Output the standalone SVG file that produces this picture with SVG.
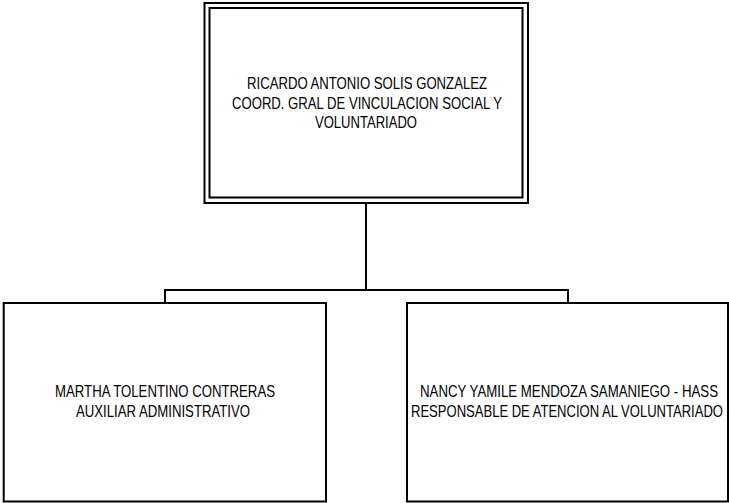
<svg xmlns="http://www.w3.org/2000/svg" width="729" height="503" viewBox="0 0 729 503">
<style>
.box{fill:#fff;stroke:#000;stroke-width:2}
.conn{fill:none;stroke:#000;stroke-width:2}
text{font-family:"Liberation Sans",Arial,sans-serif;font-size:16.5px;fill:#000}
</style>
<rect width="729" height="503" fill="#fff"/>
<g id="connectors">
<path class="conn" d="M366,203 V290 M165,290 H568 M165,289 V303 M568,289 V303"/>
</g>
<g id="node-top">
<rect class="box" x="204.5" y="3" width="323.5" height="200"/>
<rect class="box" x="209.5" y="8" width="313" height="189.5"/>
<text x="247" y="89" textLength="240" lengthAdjust="spacingAndGlyphs">RICARDO ANTONIO SOLIS GONZALEZ</text>
<text x="232" y="108.5" textLength="270" lengthAdjust="spacingAndGlyphs">COORD. GRAL DE VINCULACION SOCIAL Y</text>
<text x="315" y="128" textLength="102" lengthAdjust="spacingAndGlyphs">VOLUNTARIADO</text>
</g>
<g id="node-left">
<rect class="box" x="3.7" y="303" width="322.3" height="198.5"/>
<text x="55" y="397" textLength="220" lengthAdjust="spacingAndGlyphs">MARTHA TOLENTINO CONTRERAS</text>
<text x="76" y="416.5" textLength="174" lengthAdjust="spacingAndGlyphs">AUXILIAR ADMINISTRATIVO</text>
</g>
<g id="node-right">
<rect class="box" x="407" y="303" width="321" height="198.5"/>
<text x="420" y="397" textLength="298" lengthAdjust="spacingAndGlyphs">NANCY YAMILE MENDOZA SAMANIEGO - HASS</text>
<text x="411" y="416.5" textLength="312" lengthAdjust="spacingAndGlyphs">RESPONSABLE DE ATENCION AL VOLUNTARIADO</text>
</g>
</svg>
